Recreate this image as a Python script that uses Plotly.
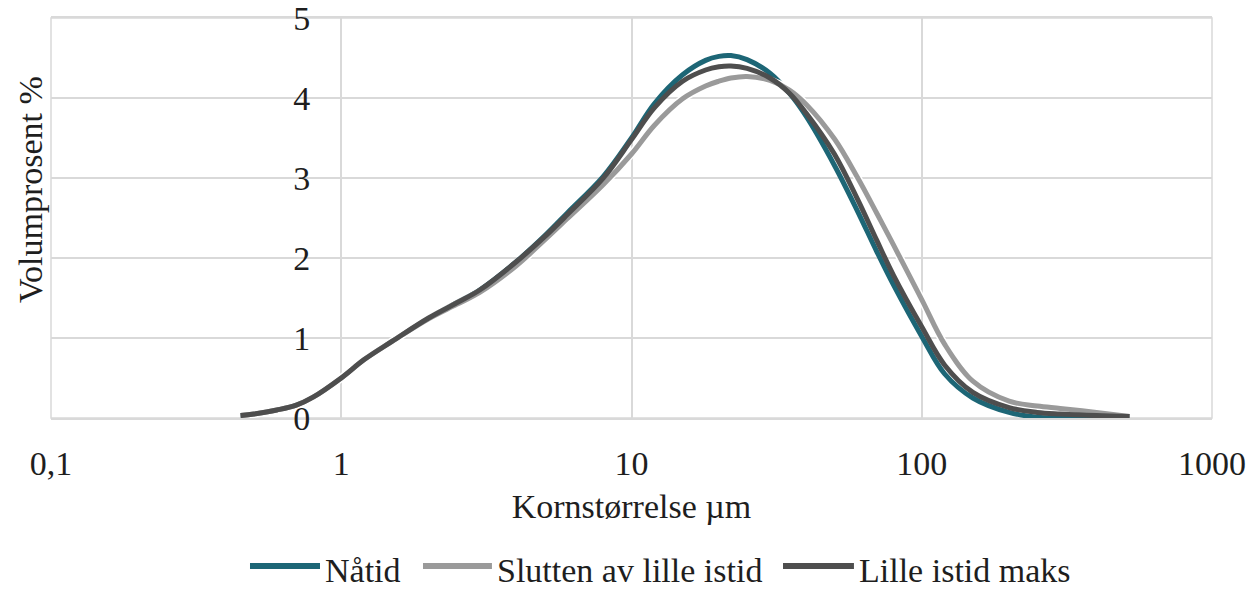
import plotly.graph_objects as go

# Grain size (µm)
size_um = [0.45, 0.5, 0.6, 0.7, 0.8, 1, 1.2, 1.5, 2, 2.5, 3, 4, 5, 6, 8, 10, 12, 15, 18, 20,
           22, 25, 30, 35, 40, 50, 60, 70, 80, 100, 120, 150, 200, 250, 300, 400, 520]

natid = [0.03, 0.05, 0.10, 0.16, 0.26, 0.50, 0.73, 0.96, 1.25, 1.44, 1.60, 1.95, 2.27, 2.56, 3.02,
         3.50, 3.93, 4.29, 4.47, 4.52, 4.53, 4.48, 4.31, 4.06, 3.77, 3.16, 2.59, 2.08, 1.66,
         1.02, 0.55, 0.25, 0.07, 0.01, 0.0, 0.0, 0.0]

slutten = [0.03, 0.05, 0.10, 0.16, 0.26, 0.50, 0.73, 0.96, 1.24, 1.42, 1.57, 1.90, 2.22, 2.49, 2.92,
           3.30, 3.66, 3.99, 4.15, 4.21, 4.25, 4.27, 4.22, 4.10, 3.92, 3.49, 3.01, 2.56, 2.16,
           1.48, 0.92, 0.46, 0.21, 0.15, 0.12, 0.07, 0.02]

lille_maks = [0.03, 0.05, 0.10, 0.16, 0.26, 0.50, 0.73, 0.96, 1.25, 1.44, 1.60, 1.95, 2.26, 2.54, 3.00,
              3.48, 3.88, 4.21, 4.35, 4.39, 4.40, 4.37, 4.25, 4.06, 3.81, 3.30, 2.74, 2.22, 1.78,
              1.14, 0.66, 0.32, 0.13, 0.07, 0.05, 0.03, 0.02]

series_names = ["Nåtid", "Slutten av lille istid", "Lille istid maks"]
series_colors = ["#1d6676", "#9a9a9a", "#4e4e4e"]

x_tickvals = [0.1, 1, 10, 100, 1000]
x_ticktext = ["0,1", "1", "10", "100", "1000"]
y_tickvals = [0, 1, 2, 3, 4, 5]

FONT = "Liberation Serif, Times New Roman, serif"
FS = 34
TXT = "#1e1e1e"
GRID = "#d9d9d9"
LINE = dict(width=5, shape="spline", smoothing=1.0)

fig = go.Figure()
fig.add_trace(go.Scatter(x=size_um, y=natid, mode="lines", name=series_names[0],
                         line=dict(color=series_colors[0], **LINE)))
fig.add_trace(go.Scatter(x=size_um, y=slutten, mode="lines", showlegend=False, hoverinfo="skip",
                         line=dict(color="white", width=8, shape="spline", smoothing=1.0)))
fig.add_trace(go.Scatter(x=size_um, y=slutten, mode="lines", name=series_names[1],
                         line=dict(color=series_colors[1], **LINE)))
fig.add_trace(go.Scatter(x=size_um, y=lille_maks, mode="lines", name=series_names[2],
                         line=dict(color=series_colors[2], **LINE)))

# Legend (Excel-style long swatches), laid out below the axis title
legend_swatch_x = [(0.1714, 0.2317), (0.3204, 0.3798), (0.6305, 0.6916)]
shapes = [dict(type="rect", xref="paper", yref="paper", x0=0, x1=1, y0=0, y1=1,
               line=dict(color=GRID, width=1.5), layer="below")]
annotations = [dict(text="Volumprosent %", textangle=-90, xref="paper", yref="paper",
                    x=-0.018, y=0.57, xanchor="center", yanchor="middle", showarrow=False,
                    font=dict(family=FONT, size=FS, color=TXT))]
for (x0, x1), name, col in zip(legend_swatch_x, series_names, series_colors):
    shapes.append(dict(type="line", xref="paper", yref="paper", x0=x0, x1=x1, y0=-0.37, y1=-0.37,
                       line=dict(color=col, width=6)))
    annotations.append(dict(text=name, xref="paper", yref="paper", x=x1 + 0.003, y=-0.382,
                            xanchor="left", yanchor="middle", showarrow=False,
                            font=dict(family=FONT, size=FS, color=TXT)))

fig.update_layout(
    width=1258, height=589,
    margin=dict(l=51, r=46, t=18, b=171, autoexpand=False),
    paper_bgcolor="white", plot_bgcolor="white",
    font=dict(family=FONT, size=FS, color=TXT),
    showlegend=False,
    xaxis=dict(type="log", range=[-1, 3], tickvals=x_tickvals, ticktext=x_ticktext,
               showgrid=True, gridcolor=GRID, gridwidth=1.5, automargin=False,
               showline=True, mirror=True, linecolor=GRID, linewidth=1.5,
               ticks="", ticklabelstandoff=14, zeroline=False, ticklabeloverflow="allow",
               title=dict(text="Kornstørrelse µm", standoff=14,
                          font=dict(family=FONT, size=FS, color=TXT))),
    yaxis=dict(range=[0, 5], tickvals=y_tickvals, anchor="free", position=0.25,
               showgrid=True, gridcolor=GRID, gridwidth=1.5, automargin=False,
               zeroline=True, zerolinecolor=GRID, zerolinewidth=1.5,
               showline=False, ticks="", ticklabelstandoff=31, ticklabeloverflow="allow"),
    shapes=shapes,
    annotations=annotations,
)

fig.write_html("out.html")
